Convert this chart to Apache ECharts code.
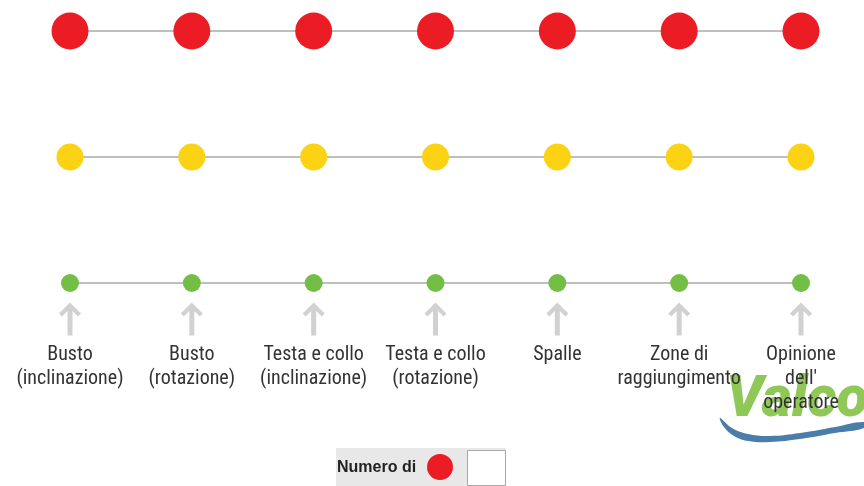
<!DOCTYPE html>
<html>
<head>
<meta charset="utf-8">
<script src="https://cdn.jsdelivr.net/npm/echarts@6/dist/echarts.min.js"></script>
<style>
  html, body { margin: 0; padding: 0; background: #fff; }
  #chart { width: 864px; height: 486px; }
</style>
</head>
<body>
<div id="chart"></div>
<script>
// categorie (fattori di rischio)
const categories = [
  'Busto\n(inclinazione)',
  'Busto\n(rotazione)',
  'Testa e collo\n(inclinazione)',
  'Testa e collo\n(rotazione)',
  'Spalle',
  'Zone di\nraggiungimento',
  "Opinione\ndell'\noperatore"
];
// livelli: rosso = 3, giallo = 2, verde = 1
const redRow = [3, 3, 3, 3, 3, 3, 3];
const yellowRow = [2, 2, 2, 2, 2, 2, 2];
const greenRow = [1, 1, 1, 1, 1, 1, 1];

const labelFont = "'Roboto Condensed', 'Liberation Sans Narrow', Roboto, sans-serif";
const arrowPath = 'path://M11,0 L22,11 L19,14 L13.5,8.5 L13.5,33 L8.5,33 L8.5,8.5 L3,14 L0,11 Z';

function rowSeries(name, data, color, size) {
  return {
    name: name,
    type: 'line',
    data: data,
    symbol: 'circle',
    symbolSize: size,
    clip: false,
    itemStyle: { color: color },
    lineStyle: { color: '#7e7e7e', width: 1 },
    z: 3
  };
}

// sagoma della "virgola" blu del logo
const swoosh = [
  [720, 418], [732, 428], [748, 434], [770, 436], [800, 433], [835, 427], [864, 422],
  [864, 428], [835, 433], [800, 439], [770, 442], [748, 441], [734, 436], [724, 427]
];

const chart = echarts.init(document.getElementById('chart'));
chart.setOption({
  animation: false,
  grid: { left: 70, right: 63, top: 31, bottom: 203 },
  xAxis: {
    type: 'category',
    data: categories,
    boundaryGap: false,
    axisLine: { show: false },
    axisTick: { show: false },
    splitLine: { show: false },
    axisLabel: {
      margin: 60,
      interval: 0,
      color: '#333',
      fontFamily: labelFont,
      fontWeight: 'condensed',
      fontSize: 20,
      lineHeight: 24
    }
  },
  yAxis: {
    type: 'value',
    min: 1,
    max: 3,
    show: false
  },
  series: [
    rowSeries('Rosso', redRow, '#ec1c24', 37),
    rowSeries('Giallo', yellowRow, '#fbd214', 27),
    rowSeries('Verde', greenRow, '#73bf45', 18),
    {
      name: 'Frecce',
      type: 'scatter',
      data: greenRow,
      symbol: arrowPath,
      symbolSize: [22, 33],
      symbolOffset: [0, 36],
      itemStyle: { color: '#c6c6c6' },
      silent: true,
      z: 2
    }
  ],
  graphic: [
    // logo Valco
    {
      type: 'text',
      x: 726,
      y: 372,
      z: -1,
      style: {
        text: 'Valco',
        font: 'italic 900 58px Roboto, "Liberation Sans", sans-serif',
        fill: '#8fc856'
      }
    },
    {
      type: 'polygon',
      z: -1,
      shape: { points: swoosh, smooth: 0.4 },
      style: { fill: '#4b7dab' }
    },
    // riquadro legenda
    {
      type: 'rect',
      shape: { x: 336, y: 448, width: 170, height: 38 },
      style: { fill: '#e8e8e8' }
    },
    {
      type: 'text',
      x: 337,
      y: 460,
      style: {
        text: 'Numero di',
        font: 'bold 16px "Liberation Sans", Arial, sans-serif',
        fill: '#222'
      }
    },
    {
      type: 'circle',
      shape: { cx: 440, cy: 467, r: 13 },
      style: { fill: '#ec1c24' }
    },
    {
      type: 'rect',
      shape: { x: 467.5, y: 450.5, width: 38, height: 35 },
      style: { fill: '#ffffff', stroke: '#a8a8a8', lineWidth: 1 }
    }
  ]
});
</script>
</body>
</html>
